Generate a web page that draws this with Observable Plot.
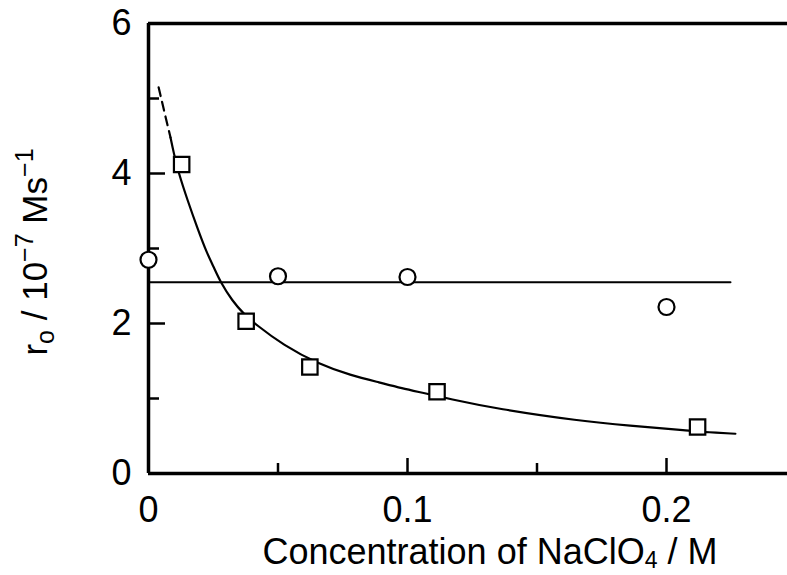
<!DOCTYPE html>
<html>
<head>
<meta charset="utf-8">
<script src="https://cdn.jsdelivr.net/npm/d3@7"></script>
<script src="https://cdn.jsdelivr.net/npm/@observablehq/plot@0.6"></script>
<style>
  html, body { margin: 0; padding: 0; background: #fff; }
  svg text { white-space: pre; }
</style>
</head>
<body>
<div id="chart"></div>
<script>
// ---- data ----
const circleX = [0, 0.05, 0.1, 0.2];
const circleY = [2.85, 2.63, 2.62, 2.22];

const squareX = [0.0128, 0.0377, 0.0623, 0.1114, 0.2120];
const squareY = [4.12, 2.03, 1.42, 1.09, 0.62];

const flatLineX = [0, 0.2247];
const flatLineY = [2.55, 2.55];

const fitDashX = [0.0039, 0.0062, 0.0085];
const fitDashY = [5.15, 4.81, 4.48];

const fitX = [0.0085, 0.0097, 0.0116, 0.0151, 0.0189, 0.0224, 0.0251, 0.0278, 0.0324, 0.0367, 0.0413, 0.0521, 0.0656, 0.0780, 0.0896, 0.0973, 0.1081, 0.1154, 0.1347, 0.1668, 0.1849, 0.2093, 0.2158, 0.2266];
const fitY = [4.48, 4.28, 4.01, 3.64, 3.27, 2.95, 2.76, 2.55, 2.30, 2.13, 1.99, 1.71, 1.46, 1.31, 1.21, 1.14, 1.06, 1.00, 0.86, 0.70, 0.64, 0.57, 0.55, 0.53];

const yMajorTicks = [0, 2, 4, 6];
const yMinorTicks = [1, 3, 5];
const xMajorTicks = [0.1, 0.2];
const xMinorTicks = [0.05, 0.15];
const xTickLabels = [0, 0.1, 0.2];

// ---- layout ----
const W = 787, H = 575;
const mL = 148, mR = 0, mT = 23, mB = 102;
const frameW = W - mL - mR, frameH = H - mT - mB;

const zip = (xs, ys) => xs.map((x, i) => ({x, y: ys[i]}));

const chart = Plot.plot({
  width: W,
  height: H,
  marginLeft: mL,
  marginRight: mR,
  marginTop: mT,
  marginBottom: mB,
  style: {fontFamily: "'Liberation Sans', Arial, Helvetica, sans-serif", background: "#fff", color: "#000"},
  x: {domain: [0, frameW / 2590], label: null},
  y: {domain: [0, 6], label: null},
  marks: [
    // frame lines
    Plot.ruleY([6], {stroke: "#000", strokeWidth: 3.5}),
    Plot.ruleY([0], {stroke: "#000", strokeWidth: 3.5}),
    Plot.ruleX([0], {stroke: "#000", strokeWidth: 3.5}),
    // inward ticks
    Plot.tickY(yMajorTicks, {y: d => d, insetRight: frameW - 17, stroke: "#000", strokeWidth: 2.5}),
    Plot.tickY(yMinorTicks, {y: d => d, insetRight: frameW - 11, stroke: "#000", strokeWidth: 2.5}),
    Plot.tickX(xMajorTicks, {x: d => d, insetTop: frameH - 15, stroke: "#000", strokeWidth: 2.5}),
    Plot.tickX(xMinorTicks, {x: d => d, insetTop: frameH - 10, stroke: "#000", strokeWidth: 2.5}),
    // tick labels
    Plot.axisY({ticks: yMajorTicks, tickSize: 0, tickPadding: 17, fontSize: 36, label: null,
      tickFormat: d => String(d)}),
    Plot.axisX({ticks: xTickLabels, tickSize: 0, tickPadding: 23, fontSize: 36, label: null,
      tickFormat: d => d === 0 ? "0" : d3.format(".1f")(d)}),
    // lines
    Plot.line(zip(flatLineX, flatLineY), {x: "x", y: "y", stroke: "#000", strokeWidth: 2}),
    Plot.line(zip(fitDashX, fitDashY), {x: "x", y: "y", stroke: "#000", strokeWidth: 2.2, strokeDasharray: "9,6"}),
    Plot.line(zip(fitX, fitY), {x: "x", y: "y", stroke: "#000", strokeWidth: 2.2, curve: "basis"}),
    // markers
    Plot.dot(zip(circleX, circleY), {x: "x", y: "y", r: 8, fill: "#fff", stroke: "#000", strokeWidth: 2.2}),
    Plot.dot(zip(squareX, squareY), {x: "x", y: "y", r: 8.7, symbol: "square", fill: "#fff", stroke: "#000", strokeWidth: 2.2})
  ]
});

document.getElementById("chart").appendChild(chart);

// axis titles with sub/superscripts
const svg = d3.select(chart);
const ff = "'Liberation Sans', Arial, Helvetica, sans-serif";

const xt = svg.append("text")
  .attr("x", 490).attr("y", 564)
  .attr("text-anchor", "middle")
  .attr("font-family", ff).attr("font-size", 36).attr("fill", "#000");
xt.append("tspan").text("Concentration of NaClO");
xt.append("tspan").attr("font-size", 23).attr("dy", 4).text("4");
xt.append("tspan").attr("dy", -4).text(" / M");

const yt = svg.append("text")
  .attr("transform", "translate(47,252) rotate(-90)")
  .attr("text-anchor", "middle")
  .attr("font-family", ff).attr("font-size", 35).attr("fill", "#000");
yt.append("tspan").text("r");
yt.append("tspan").attr("font-size", 25).attr("dy", 7).text("o");
yt.append("tspan").attr("dy", -7).text(" / 10");
yt.append("tspan").attr("font-size", 25).attr("dy", -14).text("\u22127");
yt.append("tspan").attr("dy", 14).text(" Ms");
yt.append("tspan").attr("font-size", 25).attr("dy", -14).text("\u22121");
</script>
</body>
</html>
